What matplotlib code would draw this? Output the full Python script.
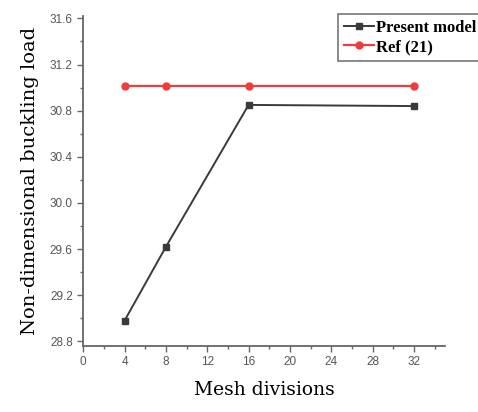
import matplotlib.pyplot as plt
from matplotlib.ticker import MultipleLocator

mesh = [4, 8, 16, 32]
present_model = [28.98, 29.62, 30.85, 30.84]
ref_21 = [31.01, 31.01, 31.01, 31.01]

fig = plt.figure(figsize=(4.78, 4.12), dpi=100)
ax = fig.add_axes([0.174, 0.160, 0.757, 0.801])

ax.plot(mesh, present_model, color='#3a3a3a', lw=1.4, marker='s', ms=4.5,
        label='Present model')
ax.plot(mesh, ref_21, color='#f03c3c', lw=1.6, marker='o', ms=5,
        label='Ref (21)')

ax.set_xlim(0, 35)
ax.set_ylim(28.76, 31.62)
ax.xaxis.set_major_locator(MultipleLocator(4))
ax.xaxis.set_minor_locator(MultipleLocator(2))
ax.yaxis.set_major_locator(MultipleLocator(0.4))
ax.yaxis.set_minor_locator(MultipleLocator(0.2))
ax.set_xticks(range(0, 33, 4))

for side in ['top', 'right']:
    ax.spines[side].set_visible(False)
for side in ['left', 'bottom']:
    ax.spines[side].set_color('#666666')
    ax.spines[side].set_linewidth(1.3)

ax.tick_params(which='major', direction='out', length=4, width=1,
               color='#666666', labelcolor='#555555', labelsize=8.5)
ax.tick_params(which='minor', direction='out', length=2, width=1,
               color='#666666')
for lab in ax.get_xticklabels() + ax.get_yticklabels():
    lab.set_family('Liberation Sans')

ax.set_xlabel('Mesh divisions', family='DejaVu Serif', fontsize=13.5,
              labelpad=9)
ax.set_ylabel('Non-dimensional buckling load', family='DejaVu Serif',
              fontsize=14, labelpad=8)

leg = fig.legend(loc='upper left', bbox_to_anchor=(338 / 478, 1 - 14 / 412),
                 borderaxespad=0,
                 prop={'family': 'Liberation Serif', 'weight': 'bold', 'size': 12},
                 handlelength=1.8, handletextpad=0.1, borderpad=0.35,
                 labelspacing=0.2, fancybox=False, edgecolor='#555555')
leg.get_frame().set_linewidth(1.2)

fig.savefig('out.png', dpi=100)
